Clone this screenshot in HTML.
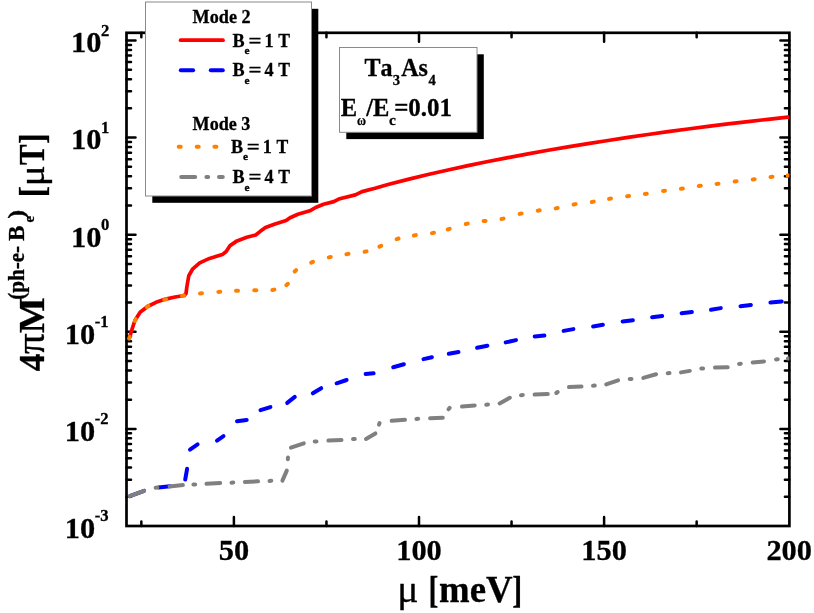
<!DOCTYPE html>
<html><head><meta charset="utf-8"><title>chart</title>
<style>html,body{margin:0;padding:0;background:#fff;}svg{display:block;will-change:transform;}text{font-family:"Liberation Serif",serif;font-weight:bold;fill:#000;font-kerning:none;stroke:#000;stroke-width:0.3px;}</style>
</head><body>
<svg width="814" height="613" viewBox="0 0 814 613">
<rect x="0" y="0" width="814" height="613" fill="#fff"/>
<g stroke="#000" fill="none" stroke-linecap="round">
<path d="M126.5 496.77h4.5M789.4 496.77h-4.5M126.5 479.67h4.5M789.4 479.67h-4.5M126.5 467.54h4.5M789.4 467.54h-4.5M126.5 458.13h4.5M789.4 458.13h-4.5M126.5 450.44h4.5M789.4 450.44h-4.5M126.5 443.94h4.5M789.4 443.94h-4.5M126.5 438.31h4.5M789.4 438.31h-4.5M126.5 433.34h4.5M789.4 433.34h-4.5M126.5 428.90h9.0M789.4 428.90h-9.0M126.5 399.67h4.5M789.4 399.67h-4.5M126.5 382.57h4.5M789.4 382.57h-4.5M126.5 370.44h4.5M789.4 370.44h-4.5M126.5 361.03h4.5M789.4 361.03h-4.5M126.5 353.34h4.5M789.4 353.34h-4.5M126.5 346.84h4.5M789.4 346.84h-4.5M126.5 341.21h4.5M789.4 341.21h-4.5M126.5 336.24h4.5M789.4 336.24h-4.5M126.5 331.80h9.0M789.4 331.80h-9.0M126.5 302.57h4.5M789.4 302.57h-4.5M126.5 285.47h4.5M789.4 285.47h-4.5M126.5 273.34h4.5M789.4 273.34h-4.5M126.5 263.93h4.5M789.4 263.93h-4.5M126.5 256.24h4.5M789.4 256.24h-4.5M126.5 249.74h4.5M789.4 249.74h-4.5M126.5 244.11h4.5M789.4 244.11h-4.5M126.5 239.14h4.5M789.4 239.14h-4.5M126.5 234.70h9.0M789.4 234.70h-9.0M126.5 205.47h4.5M789.4 205.47h-4.5M126.5 188.37h4.5M789.4 188.37h-4.5M126.5 176.24h4.5M789.4 176.24h-4.5M126.5 166.83h4.5M789.4 166.83h-4.5M126.5 159.14h4.5M789.4 159.14h-4.5M126.5 152.64h4.5M789.4 152.64h-4.5M126.5 147.01h4.5M789.4 147.01h-4.5M126.5 142.04h4.5M789.4 142.04h-4.5M126.5 137.60h9.0M789.4 137.60h-9.0M126.5 108.37h4.5M789.4 108.37h-4.5M126.5 91.27h4.5M789.4 91.27h-4.5M126.5 79.14h4.5M789.4 79.14h-4.5M126.5 69.73h4.5M789.4 69.73h-4.5M126.5 62.04h4.5M789.4 62.04h-4.5M126.5 55.54h4.5M789.4 55.54h-4.5M126.5 49.91h4.5M789.4 49.91h-4.5M126.5 44.94h4.5M789.4 44.94h-4.5M126.5 40.50h9.0M789.4 40.50h-9.0M233.90 32.8v9.0M233.90 526.0v-9.0M419.00 32.8v9.0M419.00 526.0v-9.0M604.10 32.8v9.0M604.10 526.0v-9.0M141.35 32.8v4.5M141.35 526.0v-4.5M326.45 32.8v4.5M326.45 526.0v-4.5M511.55 32.8v4.5M511.55 526.0v-4.5M696.65 32.8v4.5M696.65 526.0v-4.5" stroke-width="2.5"/>
<rect x="126.5" y="32.8" width="662.9" height="493.2" stroke-width="2.7" stroke-linejoin="miter"/>
</g>
<clipPath id="pc"><rect x="126.5" y="32.8" width="662.9" height="493.2"/></clipPath>
<g fill="none" stroke-linecap="round" stroke-linejoin="round" clip-path="url(#pc)">
<path d="M129.8 496.2L144.1 490.9" stroke="#0000ff" stroke-width="4.0"/>
<path d="M158.5 487.4L170.0 486.2" stroke="#0000ff" stroke-width="4.0"/>
<path d="M185.2 479.6L187.1 468.8" stroke="#0000ff" stroke-width="4.0"/>
<path d="M190.0 449.6L197.6 444.3" stroke="#0000ff" stroke-width="4.0"/>
<path d="M217.0 440.6L223.5 436.1" stroke="#0000ff" stroke-width="4.0"/>
<path d="M237.0 421.3L246.7 420.0" stroke="#0000ff" stroke-width="4.0"/>
<path d="M260.5 410.2L270.4 407.1" stroke="#0000ff" stroke-width="4.0"/>
<path d="M287.2 402.9L294.8 396.9" stroke="#0000ff" stroke-width="4.0"/>
<path d="M312.8 393.3L321.2 388.2" stroke="#0000ff" stroke-width="4.0"/>
<path d="M336.6 383.3L346.6 380.0" stroke="#0000ff" stroke-width="4.0"/>
<path d="M365.6 373.9L373.6 373.3" stroke="#0000ff" stroke-width="4.0"/>
<path d="M393.2 367.3L403.9 364.3" stroke="#0000ff" stroke-width="4.0"/>
<path d="M423.5 359.1L431.9 357.2" stroke="#0000ff" stroke-width="4.0"/>
<path d="M448.8 353.8L458.5 352.0" stroke="#0000ff" stroke-width="4.0"/>
<path d="M477.1 347.8L487.4 345.7" stroke="#0000ff" stroke-width="4.0"/>
<path d="M505.7 342.4L516.0 340.1" stroke="#0000ff" stroke-width="4.0"/>
<path d="M534.7 336.4L544.4 335.6" stroke="#0000ff" stroke-width="4.0"/>
<path d="M563.6 330.9L573.4 329.1" stroke="#0000ff" stroke-width="4.0"/>
<path d="M593.1 326.5L602.9 324.8" stroke="#0000ff" stroke-width="4.0"/>
<path d="M622.6 321.6L632.9 320.2" stroke="#0000ff" stroke-width="4.0"/>
<path d="M652.1 317.3L662.2 315.9" stroke="#0000ff" stroke-width="4.0"/>
<path d="M681.6 313.3L691.9 312.0" stroke="#0000ff" stroke-width="4.0"/>
<path d="M711.0 309.8L720.8 308.1" stroke="#0000ff" stroke-width="4.0"/>
<path d="M740.5 306.3L750.9 304.9" stroke="#0000ff" stroke-width="4.0"/>
<path d="M770.4 302.5L781.7 301.5" stroke="#0000ff" stroke-width="4.0"/>
<path d="M129.8 496.2L144.1 490.9" stroke="#808080" stroke-width="4.0"/>
<path d="M169.5 486.4L182.9 485.1" stroke="#808080" stroke-width="4.0"/>
<path d="M206.5 483.8L220.2 483.0" stroke="#808080" stroke-width="4.0"/>
<path d="M244.9 481.9L258.0 481.3" stroke="#808080" stroke-width="4.0"/>
<path d="M328.4 440.6L341.5 440.0" stroke="#808080" stroke-width="4.0"/>
<path d="M391.7 420.8L405.0 419.8" stroke="#808080" stroke-width="4.0"/>
<path d="M430.1 418.2L442.8 417.8" stroke="#808080" stroke-width="4.0"/>
<path d="M462.0 406.5L474.7 405.5" stroke="#808080" stroke-width="4.0"/>
<path d="M499.6 403.4L509.8 397.8" stroke="#808080" stroke-width="4.0"/>
<path d="M534.6 394.6L547.8 394.1" stroke="#808080" stroke-width="4.0"/>
<path d="M569.0 387.1L581.5 386.5" stroke="#808080" stroke-width="4.0"/>
<path d="M606.2 384.4L618.1 380.3" stroke="#808080" stroke-width="4.0"/>
<path d="M643.3 377.9L656.1 374.3" stroke="#808080" stroke-width="4.0"/>
<path d="M681.0 372.4L689.8 370.9" stroke="#808080" stroke-width="4.0"/>
<path d="M715.0 367.6L727.7 367.2" stroke="#808080" stroke-width="4.0"/>
<path d="M752.7 362.6L764.0 361.4" stroke="#808080" stroke-width="4.0"/>
<path d="M282.4 480.6L286.8 470.6" stroke="#808080" stroke-width="4.0" />
<path d="M290.9 447.6L303.8 443.3" stroke="#808080" stroke-width="4.0" />
<path d="M366.0 438.9L375.4 433.4" stroke="#808080" stroke-width="4.0" />
<path d="M788.0 358.6L789.4 358.4" stroke="#808080" stroke-width="4.0" />
<path d="M155.6 487.7L157.4 487.5" stroke="#808080" stroke-width="4.0"/>
<path d="M193.4 484.6L195.2 484.4" stroke="#808080" stroke-width="4.0"/>
<path d="M231.5 482.7L233.3 482.5" stroke="#808080" stroke-width="4.0"/>
<path d="M269.5 481.0L271.3 480.8" stroke="#808080" stroke-width="4.0"/>
<path d="M287.8 459.3L288.0 457.5" stroke="#808080" stroke-width="4.0"/>
<path d="M314.7 441.6L316.5 441.4" stroke="#808080" stroke-width="4.0"/>
<path d="M353.0 439.1L354.8 438.9" stroke="#808080" stroke-width="4.0"/>
<path d="M379.0 424.6L379.6 423.0" stroke="#808080" stroke-width="4.0"/>
<path d="M416.4 419.0L418.2 418.8" stroke="#808080" stroke-width="4.0"/>
<path d="M448.5 409.3L449.7 407.9" stroke="#808080" stroke-width="4.0"/>
<path d="M486.2 404.7L488.0 404.5" stroke="#808080" stroke-width="4.0"/>
<path d="M521.0 395.2L522.8 395.0" stroke="#808080" stroke-width="4.0"/>
<path d="M556.3 393.0L557.7 392.0" stroke="#808080" stroke-width="4.0"/>
<path d="M593.0 385.8L594.8 385.6" stroke="#808080" stroke-width="4.0"/>
<path d="M629.7 379.1L631.5 378.9" stroke="#808080" stroke-width="4.0"/>
<path d="M667.7 373.3L669.5 373.1" stroke="#808080" stroke-width="4.0"/>
<path d="M701.3 368.6L703.1 368.4" stroke="#808080" stroke-width="4.0"/>
<path d="M739.0 363.9L740.8 363.7" stroke="#808080" stroke-width="4.0"/>
<path d="M776.0 359.4L777.8 359.2" stroke="#808080" stroke-width="4.0"/>
<path d="M129.5 337.7L131.7 330.2L134.8 320.7L140.1 312.2L147.6 306.5L156.0 302.3L165.6 299.1L175.1 297.0L184.3 295.5L186.0 293.5L186.9 286.5L188.8 275.7L192.8 268.8L199.7 262.9L209.5 258.4L222.3 254.6L226.2 251.5L230.1 245.6L237.0 240.9L246.8 237.3L255.7 235.0L260.6 231.1L265.5 227.5L274.3 224.2L286.1 220.6L290.1 217.7L297.9 214.2L310.7 210.4L315.6 207.5L323.5 204.3L333.8 201.6L339.7 198.7L355.4 194.9L362.0 191.6L375.0 188.3L388.0 184.5L408.0 179.4L428.0 174.5L448.0 170.0L468.0 165.6L488.0 161.5L508.0 157.6L528.0 153.9L548.0 150.3L568.0 146.9L588.0 143.6L608.0 140.5L628.0 137.4L648.0 134.5L668.0 131.7L688.0 129.0L708.0 126.4L728.0 123.9L748.0 121.6L768.0 119.3L788.0 117.2L789.6 117.0" stroke="#ff0000" stroke-width="3.7" />
<path d="M129.2 338.6L129.8 336.8" stroke="#ff8000" stroke-width="4.0"/>
<path d="M134.8 321.0L135.8 319.2" stroke="#ff8000" stroke-width="4.0"/>
<path d="M146.8 307.1L148.4 305.9" stroke="#ff8000" stroke-width="4.0"/>
<path d="M164.2 299.8L166.2 299.2" stroke="#ff8000" stroke-width="4.0"/>
<path d="M182.0 295.9L184.0 295.5" stroke="#ff8000" stroke-width="4.0"/>
<path d="M200.0 293.5L202.0 293.3" stroke="#ff8000" stroke-width="4.0"/>
<path d="M218.3 291.9L220.3 291.7" stroke="#ff8000" stroke-width="4.0"/>
<path d="M236.0 290.8L238.0 290.8" stroke="#ff8000" stroke-width="4.0"/>
<path d="M254.3 290.2L256.3 290.2" stroke="#ff8000" stroke-width="4.0"/>
<path d="M272.4 290.0L274.4 289.6" stroke="#ff8000" stroke-width="4.0"/>
<path d="M286.3 285.2L287.9 283.8" stroke="#ff8000" stroke-width="4.0"/>
<path d="M294.7 271.5L296.1 270.1" stroke="#ff8000" stroke-width="4.0"/>
<path d="M311.2 262.7L313.0 261.9" stroke="#ff8000" stroke-width="4.0"/>
<path d="M328.8 257.4L330.8 257.0" stroke="#ff8000" stroke-width="4.0"/>
<path d="M346.5 254.3L348.5 253.9" stroke="#ff8000" stroke-width="4.0"/>
<path d="M364.6 251.8L366.6 251.4" stroke="#ff8000" stroke-width="4.0"/>
<path d="M379.4 246.7L381.2 245.9" stroke="#ff8000" stroke-width="4.0"/>
<path d="M396.6 239.1L398.6 238.5" stroke="#ff8000" stroke-width="4.0"/>
<path d="M413.9 235.5L415.9 235.1" stroke="#ff8000" stroke-width="4.0"/>
<path d="M432.0 233.1L434.0 232.7" stroke="#ff8000" stroke-width="4.0"/>
<path d="M447.7 229.5L449.7 228.9" stroke="#ff8000" stroke-width="4.0"/>
<path d="M465.8 224.0L467.8 223.6" stroke="#ff8000" stroke-width="4.0"/>
<path d="M483.6 221.1L485.6 220.9" stroke="#ff8000" stroke-width="4.0"/>
<path d="M501.5 219.0L503.5 218.6" stroke="#ff8000" stroke-width="4.0"/>
<path d="M519.6 213.9L521.6 213.5" stroke="#ff8000" stroke-width="4.0"/>
<path d="M537.7 210.7L539.7 210.3" stroke="#ff8000" stroke-width="4.0"/>
<path d="M555.7 208.4L557.7 208.0" stroke="#ff8000" stroke-width="4.0"/>
<path d="M573.6 204.5L575.6 204.1" stroke="#ff8000" stroke-width="4.0"/>
<path d="M591.8 202.0L593.8 201.6" stroke="#ff8000" stroke-width="4.0"/>
<path d="M609.0 198.9L611.0 198.5" stroke="#ff8000" stroke-width="4.0"/>
<path d="M627.1 196.2L629.1 196.0" stroke="#ff8000" stroke-width="4.0"/>
<path d="M644.8 193.9L646.8 193.7" stroke="#ff8000" stroke-width="4.0"/>
<path d="M663.0 190.9L665.0 190.7" stroke="#ff8000" stroke-width="4.0"/>
<path d="M680.9 188.8L682.9 188.6" stroke="#ff8000" stroke-width="4.0"/>
<path d="M698.8 186.0L700.8 185.8" stroke="#ff8000" stroke-width="4.0"/>
<path d="M716.5 183.9L718.5 183.7" stroke="#ff8000" stroke-width="4.0"/>
<path d="M734.6 181.5L736.6 181.3" stroke="#ff8000" stroke-width="4.0"/>
<path d="M752.7 179.5L754.7 179.3" stroke="#ff8000" stroke-width="4.0"/>
<path d="M770.5 177.0L772.5 176.8" stroke="#ff8000" stroke-width="4.0"/>
<path d="M787.6 175.6L789.6 175.4" stroke="#ff8000" stroke-width="4.0"/>
</g>
<rect x="152.3" y="8.8" width="166.0" height="194.0" fill="#000"/>
<rect x="145.5" y="2.0" width="166.0" height="194.0" fill="#fff" stroke="#8a8a8a" stroke-width="1"/>
<rect x="346.3" y="54.3" width="137.5" height="84.80000000000001" fill="#000"/>
<rect x="339.5" y="47.5" width="137.5" height="84.80000000000001" fill="#fff" stroke="#8a8a8a" stroke-width="1"/>
<g fill="none" stroke-linecap="round">
<path d="M180.6 40.2H223" stroke="#ff0000" stroke-width="3.7"/>
<path d="M180.8 70.3L193.1 70.3" stroke="#0000ff" stroke-width="4.0"/>
<path d="M210.8 70.3L222.8 70.3" stroke="#0000ff" stroke-width="4.0"/>
<path d="M178.7 146.7L180.7 146.7" stroke="#ff8000" stroke-width="4.0"/>
<path d="M196.7 146.7L198.7 146.7" stroke="#ff8000" stroke-width="4.0"/>
<path d="M214.4 146.7L216.4 146.7" stroke="#ff8000" stroke-width="4.0"/>
<path d="M181.2 177.1L195.2 177.1" stroke="#808080" stroke-width="4.0"/>
<path d="M206.4 177.1L208.2 177.1" stroke="#808080" stroke-width="4.0"/>
<path d="M219.0 177.1L222.8 177.1" stroke="#808080" stroke-width="4.0"/>
</g>
<text transform="translate(192.59,23.20) scale(0.9710,1)" font-size="18.7">Mode 2</text>
<text transform="translate(192.59,129.70) scale(0.9682,1)" font-size="18.7">Mode 3</text>
<text transform="translate(232.60,46.60) scale(0.9700,1)" font-size="18.7">B</text>
<text transform="translate(244.61,54.00) scale(1.0000,1)" font-size="11.3">e</text>
<text transform="translate(248.46,46.60) scale(1.2194,1)" font-size="18.7" stroke="#000" stroke-width="0.35">=</text>
<text transform="translate(264.45,46.60) scale(0.9700,1)" font-size="18.7">1</text>
<text transform="translate(278.32,46.60) scale(0.9414,1)" font-size="18.7">T</text>
<text transform="translate(232.60,76.40) scale(0.9700,1)" font-size="18.7">B</text>
<text transform="translate(244.61,83.80) scale(1.0000,1)" font-size="11.3">e</text>
<text transform="translate(248.46,76.40) scale(1.2194,1)" font-size="18.7" stroke="#000" stroke-width="0.35">=</text>
<text transform="translate(264.45,76.40) scale(0.9700,1)" font-size="18.7">4</text>
<text transform="translate(278.32,76.40) scale(0.9414,1)" font-size="18.7">T</text>
<text transform="translate(230.90,153.00) scale(0.9700,1)" font-size="18.7">B</text>
<text transform="translate(242.91,160.40) scale(1.0000,1)" font-size="11.3">e</text>
<text transform="translate(246.76,153.00) scale(1.2194,1)" font-size="18.7" stroke="#000" stroke-width="0.35">=</text>
<text transform="translate(262.75,153.00) scale(0.9700,1)" font-size="18.7">1</text>
<text transform="translate(276.62,153.00) scale(0.9414,1)" font-size="18.7">T</text>
<text transform="translate(232.60,183.40) scale(0.9700,1)" font-size="18.7">B</text>
<text transform="translate(244.61,190.80) scale(1.0000,1)" font-size="11.3">e</text>
<text transform="translate(248.46,183.40) scale(1.2194,1)" font-size="18.7" stroke="#000" stroke-width="0.35">=</text>
<text transform="translate(264.45,183.40) scale(0.9700,1)" font-size="18.7">4</text>
<text transform="translate(278.32,183.40) scale(0.9414,1)" font-size="18.7">T</text>
<text transform="translate(364.52,76.00) scale(0.9800,1)" font-size="24.5">Ta</text>
<text transform="translate(392.85,85.40) scale(0.9500,1)" font-size="15.4">3</text>
<text transform="translate(401.17,76.00) scale(0.9800,1)" font-size="24.5">As</text>
<text transform="translate(428.40,85.40) scale(0.9500,1)" font-size="15.4">4</text>
<text transform="translate(340.78,115.80) scale(1.0000,1)" font-size="24.5">E</text>
<text transform="translate(356.90,124.60) scale(0.7987,1)" font-size="15.4">ω</text>
<text transform="translate(366.24,115.80) scale(1.0000,1)" font-size="24.5">/E</text>
<text transform="translate(389.07,124.60) scale(1.0000,1)" font-size="15.4">c</text>
<text transform="translate(394.16,115.80) scale(1.0175,1)" font-size="24.5">=0.01</text>
<text transform="translate(218.70,559.80) scale(1.0000,1)" font-size="30.4">50</text>
<text transform="translate(396.20,559.80) scale(1.0000,1)" font-size="30.4">100</text>
<text transform="translate(581.30,559.80) scale(1.0000,1)" font-size="30.4">150</text>
<text transform="translate(766.40,559.80) scale(1.0000,1)" font-size="30.4">200</text>
<text transform="translate(64.87,537.80) scale(1.0000,1)" font-size="30.4">10</text>
<text transform="translate(94.67,521.40) scale(1.0000,1)" font-size="16.6">-3</text>
<text transform="translate(64.87,440.70) scale(1.0000,1)" font-size="30.4">10</text>
<text transform="translate(94.67,424.30) scale(1.0000,1)" font-size="16.6">-2</text>
<text transform="translate(64.87,343.60) scale(1.0000,1)" font-size="30.4">10</text>
<text transform="translate(94.67,327.20) scale(1.0000,1)" font-size="16.6">-1</text>
<text transform="translate(71.10,246.50) scale(1.0000,1)" font-size="30.4">10</text>
<text transform="translate(100.90,230.10) scale(1.0000,1)" font-size="16.6">0</text>
<text transform="translate(71.10,149.40) scale(1.0000,1)" font-size="30.4">10</text>
<text transform="translate(100.90,133.00) scale(1.0000,1)" font-size="16.6">1</text>
<text transform="translate(71.10,52.30) scale(1.0000,1)" font-size="30.4">10</text>
<text transform="translate(100.90,35.90) scale(1.0000,1)" font-size="16.6">2</text>
<text transform="translate(397.19,601.70) scale(1.0705,1)" font-size="37.0" style="font-weight:normal" stroke="#000" stroke-width="0.5">μ</text>
<text transform="translate(428.40,603.20) scale(0.8011,1)" font-size="37.0">[</text>
<text transform="translate(439.11,601.70) scale(0.9951,1)" font-size="37.0">meV</text>
<text transform="translate(512.13,603.20) scale(0.8011,1)" font-size="37.0">]</text>
<g transform="translate(44,371.5) rotate(-90)">
<text transform="translate(0.32,0.00) scale(0.9691,1)" font-size="36.4">4</text>
<text transform="translate(17.44,0.00) scale(1.0396,1)" font-size="39.4" style="font-weight:normal" stroke="#000" stroke-width="0.7">π</text>
<text transform="translate(38.35,0.00) scale(1.0463,1)" font-size="36.4">M</text>
<text transform="translate(71.67,-20.10) scale(0.9189,1)" font-size="23.0">(ph-e-</text>
<text transform="translate(130.42,-20.10) scale(1.0057,1)" font-size="23.0">B</text>
<text transform="translate(149.11,-10.20) scale(1.0537,1)" font-size="13.6">e</text>
<text transform="translate(152.72,-20.10) scale(1.1850,1)" font-size="23.0">)</text>
<text transform="translate(174.03,0.00) scale(0.9501,1)" font-size="36.4">[</text>
<text transform="translate(185.35,0.00) scale(1.0682,1)" font-size="36.4" style="font-weight:normal" stroke="#000" stroke-width="0.6">μ</text>
<text transform="translate(206.42,0.00) scale(0.8463,1)" font-size="36.4">T</text>
<text transform="translate(227.46,0.00) scale(0.8637,1)" font-size="36.4">]</text>
</g>
</svg></body></html>
